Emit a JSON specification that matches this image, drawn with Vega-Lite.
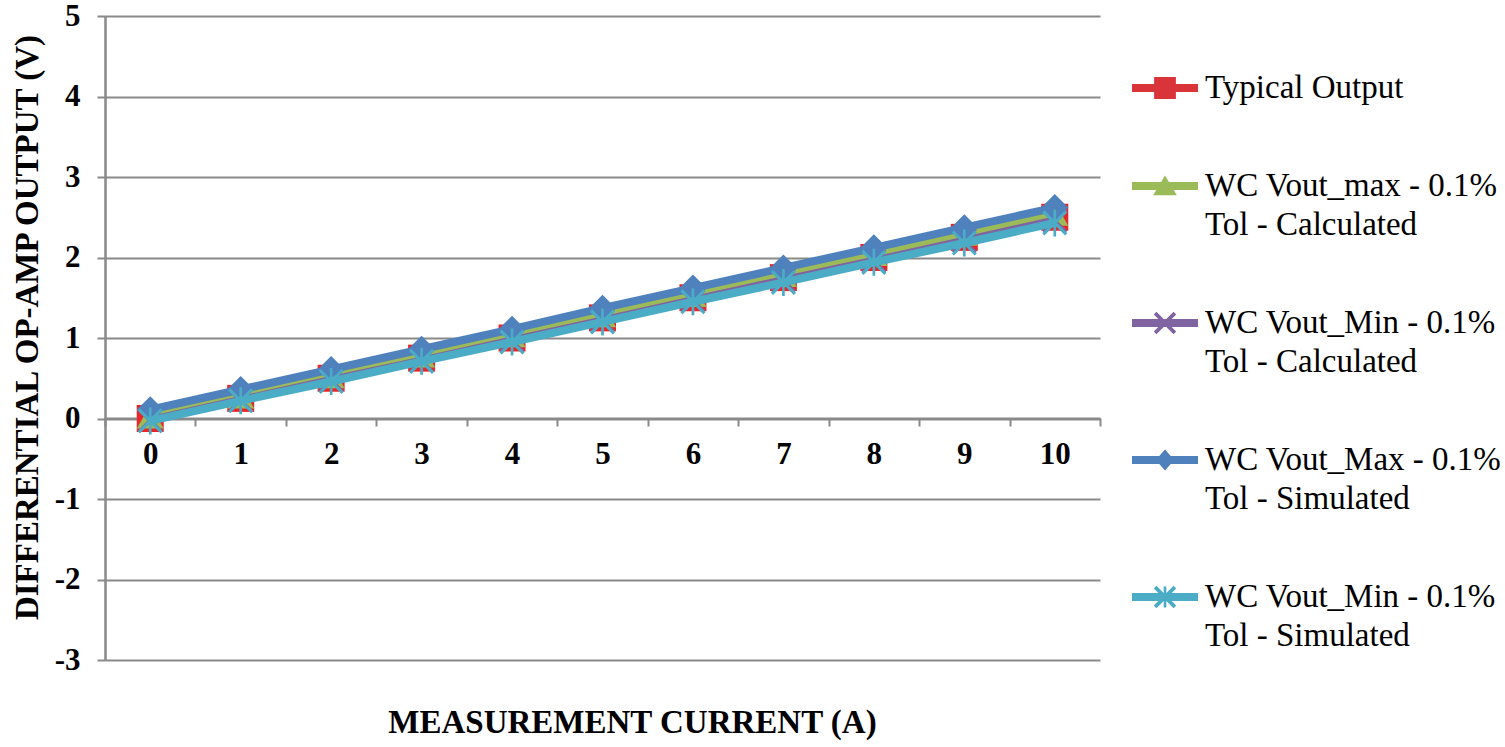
{
  "$schema": "https://vega.github.io/schema/vega-lite/v6.json",
  "width": 995,
  "height": 644,
  "autosize": {"type": "none"},
  "padding": {"left": 105, "top": 16, "right": 405, "bottom": 87},
  "background": "white",
  "config": {"view": {"stroke": null}, "font": "Liberation Serif", "legend": {"labelFont": "Liberation Serif"}},
  "data": {
    "values": [
      {"I": 0, "series": "Typical Output", "v": 0.0},
      {"I": 1, "series": "Typical Output", "v": 0.25},
      {"I": 2, "series": "Typical Output", "v": 0.5},
      {"I": 3, "series": "Typical Output", "v": 0.75},
      {"I": 4, "series": "Typical Output", "v": 1.0},
      {"I": 5, "series": "Typical Output", "v": 1.25},
      {"I": 6, "series": "Typical Output", "v": 1.5},
      {"I": 7, "series": "Typical Output", "v": 1.75},
      {"I": 8, "series": "Typical Output", "v": 2.0},
      {"I": 9, "series": "Typical Output", "v": 2.25},
      {"I": 10, "series": "Typical Output", "v": 2.5},
      {"I": 0, "series": "WC Vout_max - 0.1% Tol - Calculated", "v": 0.02},
      {"I": 1, "series": "WC Vout_max - 0.1% Tol - Calculated", "v": 0.27},
      {"I": 2, "series": "WC Vout_max - 0.1% Tol - Calculated", "v": 0.52},
      {"I": 3, "series": "WC Vout_max - 0.1% Tol - Calculated", "v": 0.78},
      {"I": 4, "series": "WC Vout_max - 0.1% Tol - Calculated", "v": 1.03},
      {"I": 5, "series": "WC Vout_max - 0.1% Tol - Calculated", "v": 1.28},
      {"I": 6, "series": "WC Vout_max - 0.1% Tol - Calculated", "v": 1.53},
      {"I": 7, "series": "WC Vout_max - 0.1% Tol - Calculated", "v": 1.78},
      {"I": 8, "series": "WC Vout_max - 0.1% Tol - Calculated", "v": 2.04},
      {"I": 9, "series": "WC Vout_max - 0.1% Tol - Calculated", "v": 2.29},
      {"I": 10, "series": "WC Vout_max - 0.1% Tol - Calculated", "v": 2.54},
      {"I": 0, "series": "WC Vout_Min - 0.1% Tol - Calculated", "v": -0.02},
      {"I": 1, "series": "WC Vout_Min - 0.1% Tol - Calculated", "v": 0.23},
      {"I": 2, "series": "WC Vout_Min - 0.1% Tol - Calculated", "v": 0.48},
      {"I": 3, "series": "WC Vout_Min - 0.1% Tol - Calculated", "v": 0.72},
      {"I": 4, "series": "WC Vout_Min - 0.1% Tol - Calculated", "v": 0.97},
      {"I": 5, "series": "WC Vout_Min - 0.1% Tol - Calculated", "v": 1.22},
      {"I": 6, "series": "WC Vout_Min - 0.1% Tol - Calculated", "v": 1.47},
      {"I": 7, "series": "WC Vout_Min - 0.1% Tol - Calculated", "v": 1.72},
      {"I": 8, "series": "WC Vout_Min - 0.1% Tol - Calculated", "v": 1.96},
      {"I": 9, "series": "WC Vout_Min - 0.1% Tol - Calculated", "v": 2.21},
      {"I": 10, "series": "WC Vout_Min - 0.1% Tol - Calculated", "v": 2.46},
      {"I": 0, "series": "WC Vout_Max - 0.1% Tol - Simulated", "v": 0.11},
      {"I": 1, "series": "WC Vout_Max - 0.1% Tol - Simulated", "v": 0.36},
      {"I": 2, "series": "WC Vout_Max - 0.1% Tol - Simulated", "v": 0.61},
      {"I": 3, "series": "WC Vout_Max - 0.1% Tol - Simulated", "v": 0.86},
      {"I": 4, "series": "WC Vout_Max - 0.1% Tol - Simulated", "v": 1.11},
      {"I": 5, "series": "WC Vout_Max - 0.1% Tol - Simulated", "v": 1.37},
      {"I": 6, "series": "WC Vout_Max - 0.1% Tol - Simulated", "v": 1.62},
      {"I": 7, "series": "WC Vout_Max - 0.1% Tol - Simulated", "v": 1.87},
      {"I": 8, "series": "WC Vout_Max - 0.1% Tol - Simulated", "v": 2.12},
      {"I": 9, "series": "WC Vout_Max - 0.1% Tol - Simulated", "v": 2.37},
      {"I": 10, "series": "WC Vout_Max - 0.1% Tol - Simulated", "v": 2.62},
      {"I": 0, "series": "WC Vout_Min - 0.1% Tol - Simulated", "v": -0.03},
      {"I": 1, "series": "WC Vout_Min - 0.1% Tol - Simulated", "v": 0.22},
      {"I": 2, "series": "WC Vout_Min - 0.1% Tol - Simulated", "v": 0.46},
      {"I": 3, "series": "WC Vout_Min - 0.1% Tol - Simulated", "v": 0.71},
      {"I": 4, "series": "WC Vout_Min - 0.1% Tol - Simulated", "v": 0.95},
      {"I": 5, "series": "WC Vout_Min - 0.1% Tol - Simulated", "v": 1.2},
      {"I": 6, "series": "WC Vout_Min - 0.1% Tol - Simulated", "v": 1.45},
      {"I": 7, "series": "WC Vout_Min - 0.1% Tol - Simulated", "v": 1.69},
      {"I": 8, "series": "WC Vout_Min - 0.1% Tol - Simulated", "v": 1.94},
      {"I": 9, "series": "WC Vout_Min - 0.1% Tol - Simulated", "v": 2.18},
      {"I": 10, "series": "WC Vout_Min - 0.1% Tol - Simulated", "v": 2.43}
    ]
  },
  "encoding": {
    "x": {
      "field": "I",
      "type": "ordinal",
      "scale": {"type": "band", "paddingInner": 0, "paddingOuter": 0},
      "axis": {
        "offset": -242,
        "title": "MEASUREMENT CURRENT (A)",
        "titleFont": "Liberation Serif",
        "titleFontSize": 33,
        "titleFontWeight": "bold",
        "titleColor": "black",
        "titleX": 527,
        "titleY": 304,
        "titleBaseline": "middle",
        "titleAlign": "center",
        "labelAngle": 0,
        "labelFont": "Liberation Serif",
        "labelFontSize": 31,
        "labelFontWeight": "bold",
        "labelColor": "black",
        "labelPadding": 13,
        "labelBaseline": "top",
        "tickBand": "extent",
        "tickSize": 8,
        "tickColor": "#898989",
        "tickWidth": 2,
        "domainColor": "#898989",
        "domainWidth": 2,
        "grid": false
      }
    },
    "y": {
      "field": "v",
      "type": "quantitative",
      "scale": {"domain": [-3, 5], "nice": false, "zero": false},
      "axis": {
        "values": [-3, -2, -1, 0, 1, 2, 3, 4, 5],
        "labelExpr": "'' + datum.value",
        "title": "DIFFERENTIAL OP-AMP OUTPUT (V)",
        "titleFont": "Liberation Serif",
        "titleFontSize": 33,
        "titleFontWeight": "bold",
        "titleColor": "black",
        "titleX": -78,
        "titleY": 311,
        "titleAngle": 270,
        "titleBaseline": "middle",
        "titleAlign": "center",
        "labelFont": "Liberation Serif",
        "labelFontSize": 31,
        "labelFontWeight": "bold",
        "labelColor": "black",
        "labelPadding": 17,
        "tickSize": 8,
        "tickColor": "#898989",
        "tickWidth": 2,
        "domainColor": "#898989",
        "domainWidth": 2.5,
        "grid": true,
        "gridColor": "#898989",
        "gridWidth": 2,
        "encode": {"labels": {"update": {"dy": {"signal": "datum.value == 5 ? 5 : 0"}}}}
      }
    }
  },
  "layer": [
    {"transform": [{"filter": "datum.series == 'Typical Output'"}], "mark": {"type": "line", "strokeWidth": 8, "color": "#C0504D"}},
    {"transform": [{"filter": "datum.series == 'Typical Output'"}], "mark": {"type": "point", "shape": "square", "filled": true, "size": 729, "opacity": 1, "strokeWidth": 0, "color": "#E8262A"}},
    {"transform": [{"filter": "datum.series == 'WC Vout_max - 0.1% Tol - Calculated'"}], "mark": {"type": "line", "strokeWidth": 8, "color": "#9BBB59"}},
    {"transform": [{"filter": "datum.series == 'WC Vout_max - 0.1% Tol - Calculated'"}], "mark": {"type": "point", "shape": "triangle-up", "filled": true, "size": 729, "opacity": 1, "strokeWidth": 0, "color": "#9BBB59"}},
    {"transform": [{"filter": "datum.series == 'WC Vout_Min - 0.1% Tol - Calculated'"}], "mark": {"type": "line", "strokeWidth": 8, "color": "#8064A2"}},
    {"transform": [{"filter": "datum.series == 'WC Vout_Min - 0.1% Tol - Calculated'"}], "mark": {"type": "point", "shape": "M-0.77,-0.93L0.93,0.77L0.77,0.93L-0.93,-0.77ZM-0.93,0.77L0.77,-0.93L0.93,-0.77L-0.77,0.93Z", "filled": true, "size": 729, "opacity": 1, "strokeWidth": 0, "color": "#8064A2"}},
    {"transform": [{"filter": "datum.series == 'WC Vout_Max - 0.1% Tol - Simulated'"}], "mark": {"type": "line", "strokeWidth": 8, "color": "#4F81BD"}},
    {"transform": [{"filter": "datum.series == 'WC Vout_Max - 0.1% Tol - Simulated'"}], "mark": {"type": "point", "shape": "diamond", "filled": true, "size": 729, "opacity": 1, "strokeWidth": 0, "color": "#4F81BD"}},
    {"transform": [{"filter": "datum.series == 'WC Vout_Min - 0.1% Tol - Simulated'"}], "mark": {"type": "line", "strokeWidth": 8, "color": "#4BACC6"}},
    {"transform": [{"filter": "datum.series == 'WC Vout_Min - 0.1% Tol - Simulated'"}], "mark": {"type": "point", "shape": "M-0.77,-0.93L0.93,0.77L0.77,0.93L-0.93,-0.77ZM-0.93,0.77L0.77,-0.93L0.93,-0.77L-0.77,0.93ZM-0.1,-1H0.1V1H-0.1Z", "filled": true, "size": 729, "opacity": 1, "strokeWidth": 0, "color": "#4BACC6"}},
    {
      "transform": [{"filter": "datum.v > 100"}],
      "mark": {"type": "point", "filled": true, "opacity": 1},
      "encoding": {
        "color": {
          "field": "series",
          "type": "nominal",
          "scale": {
            "domain": ["Typical Output", "WC Vout_max - 0.1% Tol - Calculated", "WC Vout_Min - 0.1% Tol - Calculated", "WC Vout_Max - 0.1% Tol - Simulated", "WC Vout_Min - 0.1% Tol - Simulated"],
            "range": ["#D8343A", "#9BBB59", "#8064A2", "#4F81BD", "#4BACC6"]
          },
          "legend": {
            "title": null,
            "orient": "none",
            "legendX": 1027,
            "legendY": 39,
            "padding": 0,
            "labelFont": "Liberation Serif",
            "labelFontSize": 33,
            "labelColor": "black",
            "labelLimit": 500,
            "labelOffset": 7,
            "labelBaseline": "middle",
            "labelExpr": "split(replace(datum.label, ' Tol', '|Tol'), '|')",
            "symbolSize": 4356,
            "symbolStrokeWidth": 0,
            "symbolOpacity": 1,
            "rowPadding": 48,
            "encode": {"labels": {"update": {"lineHeight": {"value": 39}, "font": {"value": "Liberation Serif"}}}}
          }
        },
        "shape": {
          "field": "series",
          "type": "nominal",
          "scale": {
            "domain": ["Typical Output", "WC Vout_max - 0.1% Tol - Calculated", "WC Vout_Min - 0.1% Tol - Calculated", "WC Vout_Max - 0.1% Tol - Simulated", "WC Vout_Min - 0.1% Tol - Simulated"],
            "range": [
              "M-1,-0.12H1V0.12H-1ZM-0.33,-0.33H0.33V0.33H-0.33Z",
              "M-1,-0.12H1V0.12H-1ZM0,-0.32L0.36,0.28H-0.36Z",
              "M-1,-0.12H1V0.12H-1ZM-0.26,-0.34L0.34,0.26L0.26,0.34L-0.34,-0.26ZM-0.34,0.26L0.26,-0.34L0.34,-0.26L-0.26,0.34Z",
              "M-1,-0.12H1V0.12H-1ZM0,-0.32L0.28,0L0,0.32L-0.28,0Z",
              "M-1,-0.12H1V0.12H-1ZM-0.26,-0.34L0.34,0.26L0.26,0.34L-0.34,-0.26ZM-0.34,0.26L0.26,-0.34L0.34,-0.26L-0.26,0.34ZM-0.04,-0.32H0.04V0.32H-0.04Z"
            ]
          }
        }
      }
    }
  ]
}
